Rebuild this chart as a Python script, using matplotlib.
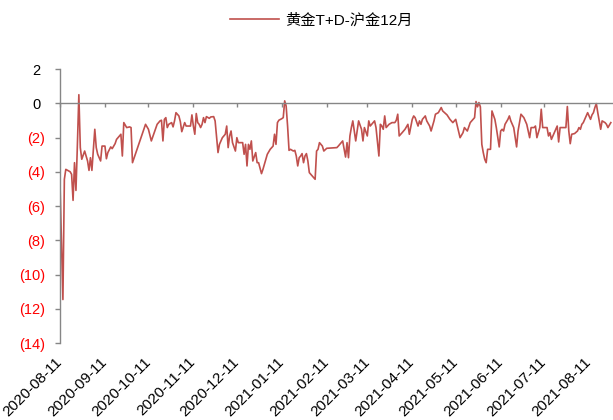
import numpy as np
import matplotlib
matplotlib.use("Agg")
import matplotlib.pyplot as plt
import matplotlib.dates as mdates

plt.rcParams['font.family'] = ['Liberation Sans', 'Noto Sans CJK SC', 'DejaVu Sans']

# days since 2020-08-11 and the spread (黄金T+D minus 沪金12月)
start_date = np.datetime64('2020-08-11')
day_offset = [
    0, 2, 3, 4, 7, 8, 9, 10, 11, 12, 13, 14, 15, 17, 19, 20, 21, 22, 24, 25,
    26, 28, 29, 31, 32, 33, 35, 36, 38, 39, 41, 42, 43, 44, 46, 48, 49, 50, 59, 61,
    63, 65, 67, 69, 70, 71, 72, 73, 74, 75, 77, 78, 79, 80, 82, 83, 84, 86, 87, 89,
    90, 91, 92, 93, 94, 95, 96, 97, 98, 99, 100, 101, 103, 104, 106, 107, 109, 110, 112, 114,
    115, 116, 117, 118, 119, 121, 122, 123, 124, 126, 127, 128, 129, 130, 131, 132, 133, 135, 136, 137,
    139, 140, 143, 145, 147, 148, 149, 150, 151, 153, 154, 155, 156, 157, 158, 159, 161, 162, 163, 164,
    165, 166, 167, 168, 169, 170, 171, 172, 173, 174, 176, 177, 178, 179, 181, 182, 184,
    191, 192, 194, 195, 197, 198, 199, 200, 201, 202, 204, 205, 206, 208, 209, 210, 212, 213, 214,
    215, 217, 218, 220, 221, 222, 223, 224, 225, 227, 229, 231, 232, 233, 234, 236, 238, 240, 241, 243,
    244, 245, 247, 248, 249, 250, 252, 253, 255, 256, 258, 259, 261, 263, 264, 267, 269, 271, 273, 276,
    278, 279, 281, 283, 285, 286, 287, 288, 289, 290, 291, 292, 293, 294, 295, 297, 298, 300, 301, 303,
    304, 305, 306, 307, 309, 310, 311, 313, 315, 316, 318, 320, 321, 322, 324, 325, 327, 328, 329, 331,
    332, 333, 334, 336, 337, 338, 339, 341, 342, 343, 344, 345, 347, 349, 350, 351, 352, 353, 355, 357,
    358, 359, 360, 361, 362, 363, 364, 365, 366, 367, 368, 369, 370, 371, 373, 374, 376, 377, 378, 380,
]
spread = [
    -4.70, -11.46, -4.44, -3.86, -4.00, -4.15, -5.67, -3.47, -5.09, -2.40, 0.50, -2.59, -3.27, -2.79, -3.37, -3.92, -3.18, -3.92, -1.52, -2.59,
    -2.98, -3.37, -2.50, -2.50, -3.24, -2.88, -2.55, -2.65, -2.36, -2.11, -1.91, -1.81, -3.08, -1.13, -1.42, -1.38, -1.42, -3.47, -1.23, -1.52,
    -2.20, -1.72, -1.23, -1.03, -0.99, -2.20, -0.94, -0.84, -1.42, -1.23, -1.13, -1.38, -1.03, -0.55, -0.74, -1.07, -1.66, -1.13, -1.33, -1.33,
    -1.33, -0.68, -1.33, -1.81, -0.60, -1.13, -1.23, -1.42, -1.23, -0.84, -1.13, -0.78, -0.88, -0.80, -0.78, -1.03, -2.88, -2.40, -2.01, -1.81,
    -1.33, -2.59, -1.91, -1.62, -2.30, -2.79, -2.01, -2.30, -2.30, -2.30, -2.98, -2.40, -3.66, -2.40, -2.69, -2.20, -3.37, -2.88, -3.47, -3.47,
    -4.11, -3.86, -2.98, -2.69, -2.50, -1.81, -2.40, -1.13, -0.99, -0.90, -0.84, 0.14, -0.16, -1.33, -2.75, -2.69, -2.79, -2.75, -3.08, -3.66,
    -3.18, -3.08, -2.94, -3.47, -3.08, -2.94, -3.37, -4.05, -4.15, -4.25, -4.44, -2.79, -2.69, -2.30, -2.50, -2.79, -2.63,
    -2.59, -2.50, -2.30, -2.20, -3.14, -2.30, -3.18, -1.91, -1.42, -1.03, -2.20, -1.62, -1.03, -1.52, -2.20, -1.42, -1.91, -1.03, -1.33,
    -1.23, -1.03, -1.42, -3.08, -1.23, -1.33, -1.52, -0.74, -1.42, -1.23, -1.13, -1.13, -0.99, -0.64, -1.91, -1.72, -1.52, -1.23, -1.81, -0.94,
    -0.74, -0.84, -1.33, -1.03, -1.23, -0.94, -0.74, -1.03, -1.33, -1.62, -1.03, -0.64, -0.55, -0.25, -0.45, -0.68, -0.94, -1.13, -0.94, -2.01,
    -1.72, -1.42, -1.62, -1.13, -0.94, -0.84, 0.10, -0.21, 0.04, -0.21, -2.40, -2.88, -3.27, -3.47, -2.69, -2.69, -0.45, -0.94, -1.42, -2.55,
    -1.62, -1.52, -1.62, -1.23, -0.94, -0.74, -1.03, -1.42, -2.55, -1.62, -0.64, -0.84, -1.03, -1.23, -2.01, -1.42, -1.42, -1.33, -2.01, -1.42,
    -0.35, -1.42, -1.42, -1.42, -1.91, -1.72, -2.11, -1.72, -1.52, -1.33, -2.26, -1.42, -1.42, -1.42, -0.19, -1.62, -2.36, -1.81, -1.77, -1.62,
    -1.42, -1.52, -1.23, -1.13, -0.94, -0.74, -0.55, -0.74, -0.94, -0.68, -0.55, -0.25, -0.02, -0.55, -1.52, -1.03, -1.13, -1.23, -1.42, -1.13,
]
tick_labels = ['2020-08-11', '2020-09-11', '2020-10-11', '2020-11-11', '2020-12-11',
               '2021-01-11', '2021-02-11', '2021-03-11', '2021-04-11', '2021-05-11',
               '2021-06-11', '2021-07-11', '2021-08-11']
series_name = '黄金T+D-沪金12月'

x = mdates.date2num(start_date + np.array(day_offset).astype('timedelta64[D]'))
tick_pos = mdates.date2num(np.array(tick_labels, dtype='datetime64[D]'))

fig = plt.figure(figsize=(6.13, 4.2), dpi=100)
ax = fig.add_axes([0.0979, 0.1833, 0.9021, 0.6524])

line, = ax.plot(x, spread, color='#C0504D', lw=1.2, label=series_name)

ax.set_xlim(mdates.date2num(start_date), mdates.date2num(start_date) + 381.5)
ax.set_ylim(-14, 2)
ax.set_yticks(np.arange(-14, 3, 2))
ylabels = []
for v in np.arange(-14, 3, 2):
    ylabels.append('(%d)' % abs(v) if v < 0 else '%d ' % v)
ax.set_yticklabels(ylabels, fontsize=10.5)
for lab, v in zip(ax.get_yticklabels(), np.arange(-14, 3, 2)):
    lab.set_color('#FF0000' if v < 0 else 'black')

axis_grey = '#868686'
for s in ['top', 'right']:
    ax.spines[s].set_visible(False)
ax.spines['left'].set_color(axis_grey)
ax.spines['left'].set_linewidth(1.0)
ax.spines['bottom'].set_position(('data', 0))
ax.spines['bottom'].set_color(axis_grey)
ax.spines['bottom'].set_linewidth(1.0)
ax.tick_params(axis='y', length=3.6, width=1.0, color=axis_grey, pad=7)

# tick marks on the zero line, labels at the bottom
ax.set_xticks(tick_pos)
ax.tick_params(axis='x', length=3, width=1.0, color=axis_grey, labelbottom=False)

sec = ax.secondary_xaxis('bottom')
sec.spines['bottom'].set_visible(False)
sec.set_xticks(tick_pos)
sec.set_xticklabels(tick_labels, rotation=45, ha='right', va='center',
                    rotation_mode='anchor', fontsize=11)
sec.tick_params(axis='x', length=0, pad=12)

fig.legend(handles=[line], loc='center', bbox_to_anchor=(321 / 613, 0.952),
           frameon=False, fontsize=11, handlelength=3.2, handletextpad=0.4)

fig.savefig('out.png', dpi=100)
